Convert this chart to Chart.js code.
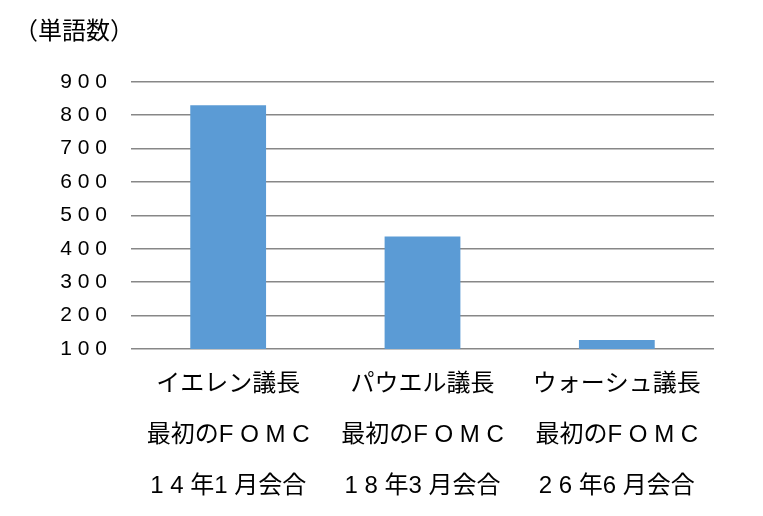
<!DOCTYPE html>
<html>
<head>
<meta charset="utf-8">
<script src="https://cdn.jsdelivr.net/npm/chart.js@4/dist/chart.umd.min.js"></script>
<style>
    html, body { margin: 0; padding: 0; background: #ffffff; }
    #wrap { width: 763px; height: 516px; }
</style>
</head>
<body>
<div id="wrap"><canvas id="wordChart"></canvas></div>
<script>

// categories, one array of lines per bar
const categories = [
    ["イエレン議長", "最初のF O M C", "1 4 年1 月会合"],
    ["パウエル議長", "最初のF O M C", "1 8 年3 月会合"],
    ["ウォーシュ議長", "最初のF O M C", "2 6 年6 月会合"]
];

const wordCounts = [830, 437, 127];

const yTicks = [100, 200, 300, 400, 500, 600, 700, 800, 900];

const unitLabel = "（単語数）";

const fontFamily = "'Liberation Sans', 'Noto Sans CJK JP', sans-serif";

const ctx =
    document
    .getElementById("wordChart");

new Chart(ctx, {

    type: "bar",

    data: {

        labels: categories,

        datasets: [{

            data: wordCounts,

            backgroundColor: "#5b9bd5",

            borderWidth: 0,

            barPercentage: 0.39,

            categoryPercentage: 1

        }]

    },

    options: {

        responsive: true,

        maintainAspectRatio: false,

        animation: false,

        layout: {

            padding: { left: 14, right: 49, top: 0, bottom: -6 }

        },

        plugins: {

            legend: { display: false },

            tooltip: { enabled: false },

            title: {

                display: true,

                text: unitLabel,

                align: "start",

                color: "#000000",

                font: { family: fontFamily, size: 24, weight: "normal", lineHeight: 1.2 },

                padding: { top: 18, bottom: 35 }

            }

        },

        scales: {

            x: {

                grid: { display: false, drawTicks: false },

                border: { display: false },

                ticks: {

                    color: "#000000",

                    padding: 10,

                    maxRotation: 0,

                    autoSkip: false,

                    font: { family: fontFamily, size: 24, lineHeight: 2.125 }

                }

            },

            y: {

                min: yTicks[0],

                max: yTicks[yTicks.length - 1],

                afterFit: function(scale){

                    scale.width = 117;

                },

                afterBuildTicks: function(scale){

                    scale.ticks = yTicks.map(v => ({ value: v }));

                },

                grid: {

                    color: "#878787",

                    lineWidth: 1.6,

                    drawTicks: false

                },

                border: { display: false },

                ticks: {

                    color: "#000000",

                    padding: 24,

                    font: { family: fontFamily, size: 21 },

                    callback: function(value){

                        return String(value).split("").join(" ");

                    }

                }

            }

        }

    }

});

</script>
</body>
</html>
